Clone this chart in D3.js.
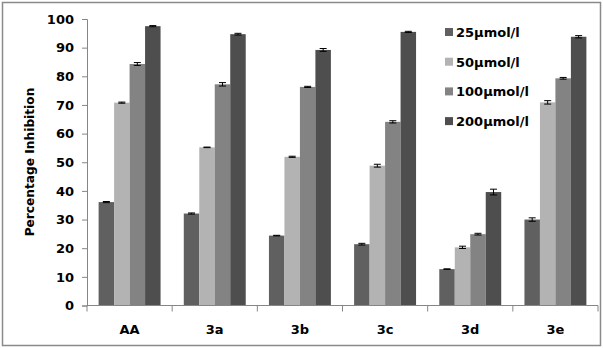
<!DOCTYPE html>
<html>
<head>
<meta charset="utf-8">
<script src="https://cdn.jsdelivr.net/npm/d3@7/dist/d3.min.js"></script>
<style>
  html, body { margin: 0; padding: 0; background: #fff; }
  svg { display: block; }
  text { font-family: "DejaVu Sans", Verdana, sans-serif; font-weight: bold; fill: #000; }
</style>
</head>
<body>
<svg id="chart" width="603" height="348"></svg>
<script>
// Compounds tested
const categories = ["AA", "3a", "3b", "3c", "3d", "3e"];
// Concentration series
const seriesNames = ["25µmol/l", "50µmol/l", "100µmol/l", "200µmol/l"];
const seriesColors = ["#606060", "#b3b3b3", "#838383", "#4e4e4e"];
// Percentage inhibition per concentration (one value per compound)
const inhib25  = [36.1, 32.1, 24.4, 21.4, 12.7, 30.0];
const inhib50  = [70.8, 55.2, 51.9, 48.8, 20.3, 70.9];
const inhib100 = [84.3, 77.2, 76.3, 64.1, 24.9, 79.3];
const inhib200 = [97.5, 94.7, 89.2, 95.5, 39.6, 93.8];
// Standard deviations
const err25  = [0.2, 0.2, 0.1, 0.3, 0.1, 0.6];
const err50  = [0.2, 0.1, 0.2, 0.5, 0.4, 0.6];
const err100 = [0.5, 0.6, 0.2, 0.4, 0.3, 0.3];
const err200 = [0.2, 0.3, 0.5, 0.2, 1.0, 0.4];
const yTicks = [0, 10, 20, 30, 40, 50, 60, 70, 80, 90, 100];

const values = [inhib25, inhib50, inhib100, inhib200];
const errors = [err25, err50, err100, err200];

const svg = d3.select("#chart");
const axisColor = "#868686";

// outer frame
svg.append("rect")
  .attr("x", 2.5).attr("y", 2.5)
  .attr("width", 598).attr("height", 343)
  .attr("fill", "none").attr("stroke", "#8a8a8a").attr("stroke-width", 1.5);

const plotLeft = 87, plotRight = 598, plotTop = 19, plotBottom = 305.5;

const x0 = d3.scaleBand().domain(categories).range([plotLeft, plotRight]).paddingInner(0).paddingOuter(0);
const groupPad = 1.5 / 5.5 / 2; // 150% gap width split on both sides
const x1 = d3.scaleBand().domain(d3.range(seriesNames.length))
  .range([x0.bandwidth() * groupPad, x0.bandwidth() * (1 - groupPad)]);
const y = d3.scaleLinear().domain([0, 100]).range([plotBottom, plotTop]);

// bars
const groups = svg.append("g").selectAll("g")
  .data(categories)
  .join("g")
  .attr("transform", d => `translate(${x0(d)},0)`);

groups.each(function (cat, ci) {
  const g = d3.select(this);
  seriesNames.forEach((s, si) => {
    const v = values[si][ci];
    g.append("rect")
      .attr("x", x1(si))
      .attr("y", y(v))
      .attr("width", x1.bandwidth())
      .attr("height", y(0) - y(v))
      .attr("fill", seriesColors[si]);
  });
  // error bars
  seriesNames.forEach((s, si) => {
    const v = values[si][ci], e = errors[si][ci];
    const cx = x1(si) + x1.bandwidth() / 2;
    const eb = g.append("g").attr("stroke", "#000").attr("stroke-width", 1);
    eb.append("line").attr("x1", cx).attr("x2", cx).attr("y1", y(v + e)).attr("y2", y(v - e));
    eb.append("line").attr("x1", cx - 3.5).attr("x2", cx + 3.5).attr("y1", y(v + e)).attr("y2", y(v + e));
    eb.append("line").attr("x1", cx - 3.5).attr("x2", cx + 3.5).attr("y1", y(v - e)).attr("y2", y(v - e));
  });
});

// y axis
const yAxis = d3.axisLeft(y).tickValues(yTicks).tickSize(5).tickPadding(8).tickFormat(d3.format("d"));
const gy = svg.append("g").attr("transform", `translate(${plotLeft},0)`).call(yAxis);
gy.select(".domain").attr("stroke", axisColor);
gy.selectAll(".tick line").attr("stroke", axisColor);
gy.selectAll(".tick text").attr("font-size", 13).attr("font-family", "DejaVu Sans").attr("font-weight", "bold").attr("fill", "#000");

// x axis: ticks between categories
const gx = svg.append("g").attr("transform", `translate(0,${plotBottom})`);
gx.append("line").attr("x1", plotLeft).attr("x2", plotRight).attr("y1", 0).attr("y2", 0).attr("stroke", axisColor);
const boundaries = categories.map(c => x0(c)).concat([plotRight]);
gx.selectAll(".bt").data(boundaries).join("line")
  .attr("x1", d => d).attr("x2", d => d).attr("y1", 0).attr("y2", 6).attr("stroke", axisColor);
gx.selectAll(".cl").data(categories).join("text")
  .attr("x", d => x0(d) + x0.bandwidth() / 2)
  .attr("y", 28)
  .attr("text-anchor", "middle")
  .attr("font-size", 13)
  .text(d => d);

// y axis title
svg.append("text")
  .attr("transform", "translate(34,162) rotate(-90)")
  .attr("text-anchor", "middle")
  .attr("font-size", 12.2)
  .text("Percentage Inhibition");

// legend
const legend = svg.append("g").attr("transform", "translate(445,0)");
seriesNames.forEach((s, i) => {
  const cy = 32 + i * 29.7;
  legend.append("rect").attr("x", 0).attr("y", cy - 4).attr("width", 8).attr("height", 8).attr("fill", seriesColors[i]);
  legend.append("text").attr("x", 11).attr("y", cy + 5).attr("font-size", 13).text(s);
});
</script>
</body>
</html>
